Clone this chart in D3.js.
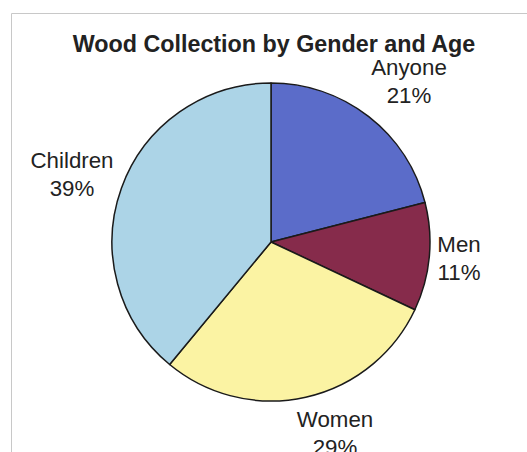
<!DOCTYPE html>
<html>
<head>
<meta charset="utf-8">
<script src="https://cdn.jsdelivr.net/npm/d3@7"></script>
<style>
  body { margin: 0; background: #fff; }
  text { font-family: "Liberation Sans", Arial, sans-serif; fill: #222; }
</style>
</head>
<body>
<svg width="527" height="452"></svg>
<script>
// slices, clockwise from 12 o'clock
const categories = ['Anyone', 'Men', 'Women', 'Children'];
const values = [21, 11, 29, 39];
const colors = ['#5b6cc9', '#862b4b', '#fbf3a3', '#acd4e7'];

const title = 'Wood Collection by Gender and Age';

const svg = d3.select('svg');
const cx = 271, cy = 242, radius = 159;

// chart frame (runs off the right / bottom edge)
svg.append('path')
  .attr('d', 'M11.5,460 V13.5 H540')
  .attr('fill', 'none')
  .attr('stroke', '#c8c8c8')
  .attr('stroke-width', 1);

svg.append('text')
  .attr('x', 274)
  .attr('y', 52)
  .attr('text-anchor', 'middle')
  .style('font-weight', 'bold')
  .style('font-size', '23.3px')
  .text(title);

const data = categories.map((c, i) => ({ name: c, value: values[i], color: colors[i] }));

const pie = d3.pie().sort(null).value(d => d.value);
const arc = d3.arc().innerRadius(0).outerRadius(radius);

const g = svg.append('g').attr('transform', `translate(${cx},${cy})`);

g.selectAll('path.slice')
  .data(pie(data))
  .enter()
  .append('path')
  .attr('class', 'slice')
  .attr('d', arc)
  .attr('fill', d => d.data.color)
  .attr('stroke', '#1a1a1a')
  .attr('stroke-width', 1.5)
  .attr('stroke-linejoin', 'round');

// label positions (centre x, first baseline)
const labelPos = {
  Anyone: [409, 75],
  Men: [459, 252],
  Women: [335, 427],
  Children: [72, 168]
};

const labels = svg.selectAll('text.label')
  .data(data)
  .enter()
  .append('text')
  .attr('class', 'label')
  .attr('text-anchor', 'middle')
  .style('font-size', '22.3px');

labels.append('tspan')
  .attr('x', d => labelPos[d.name][0])
  .attr('y', d => labelPos[d.name][1])
  .text(d => d.name);

labels.append('tspan')
  .attr('x', d => labelPos[d.name][0])
  .attr('dy', 28)
  .text(d => `${d.value}%`);
</script>
</body>
</html>
